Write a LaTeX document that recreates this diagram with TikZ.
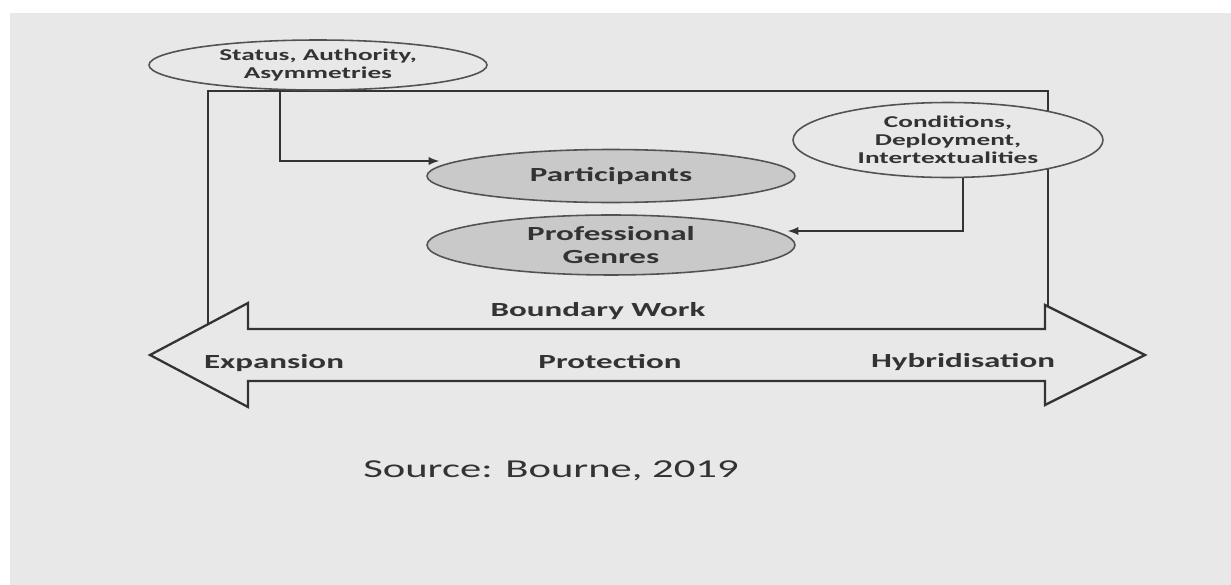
\documentclass[tikz,border=0pt]{standalone}
\usepackage{fontspec}
\setmainfont{Carlito}[FakeStretch=1.65]
\usepackage{tikz}
\usetikzlibrary{arrows,shapes.geometric,positioning}
\definecolor{bg}{HTML}{E8E8E8}
\definecolor{ink}{HTML}{333333}
\definecolor{oval}{HTML}{C9C9C9}

\begin{document}
\begin{tikzpicture}[x=0.02cm, y=-0.02cm, >=latex, line width=1.1pt,
  bubble/.style={ellipse, draw=ink!85, line width=0.9pt, fill=bg, inner sep=0pt, align=center, text=ink, font=\bfseries\fontsize{9.4}{10.2}\selectfont},
  core/.style={ellipse, draw=ink!85, line width=0.9pt, fill=oval, inner sep=0pt, align=center, text=ink, minimum width=7.36cm, font=\bfseries\fontsize{11.4}{12.8}\selectfont},
  lbl/.style={text=ink, font=\bfseries\fontsize{11.4}{12.8}\selectfont}]
\fill[white] (0,0) rectangle (1231,585);
\fill[bg] (10,13) rectangle (1231,585);
\useasboundingbox (0,0) rectangle (1231,585);
\draw[ink] (208,91) rectangle (1048,355);
\draw[ink, fill=bg, line width=1.3pt] (150,355) -- (248,303) -- (248,329) -- (1045,329) -- (1045,305) -- (1145,355)
  -- (1045,405) -- (1045,381) -- (248,381) -- (248,407) -- cycle;
\node[bubble, minimum width=6.76cm, minimum height=1.0cm] (stat) at (318,65) {Status, Authority,\\Asymmetries};
\node[core, minimum height=1.06cm] (part) at (611,176) {Participants};
\node[core, minimum height=1.2cm, below of=part, node distance=1.38cm] (genre) {Professional\\Genres};
\node[bubble, minimum width=6.2cm, minimum height=1.5cm] (cond) at (948,140) {Conditions,\\Deployment,\\Intertextualities};
\draw[->, ink] ([xshift=-0.76cm]stat.south) |- ([xshift=0.26cm, yshift=0.3cm]part.west);
\draw[->, ink] ([xshift=0.3cm]cond.south) |- ([xshift=-0.16cm, yshift=0.28cm]genre.east);
\node[lbl] (bw) at (598,311) {Boundary Work};
\node[lbl] (exp) at (274,363) {Expansion};
\node[lbl] (prot) at (610,362) {Protection};
\node[lbl] (hyb) at (963,362) {Hybridisation};
\node[text=ink, font=\fontsize{14.7}{16}\selectfont] (src) at (551,471) {Source: Bourne, 2019};
\end{tikzpicture}
\end{document}
